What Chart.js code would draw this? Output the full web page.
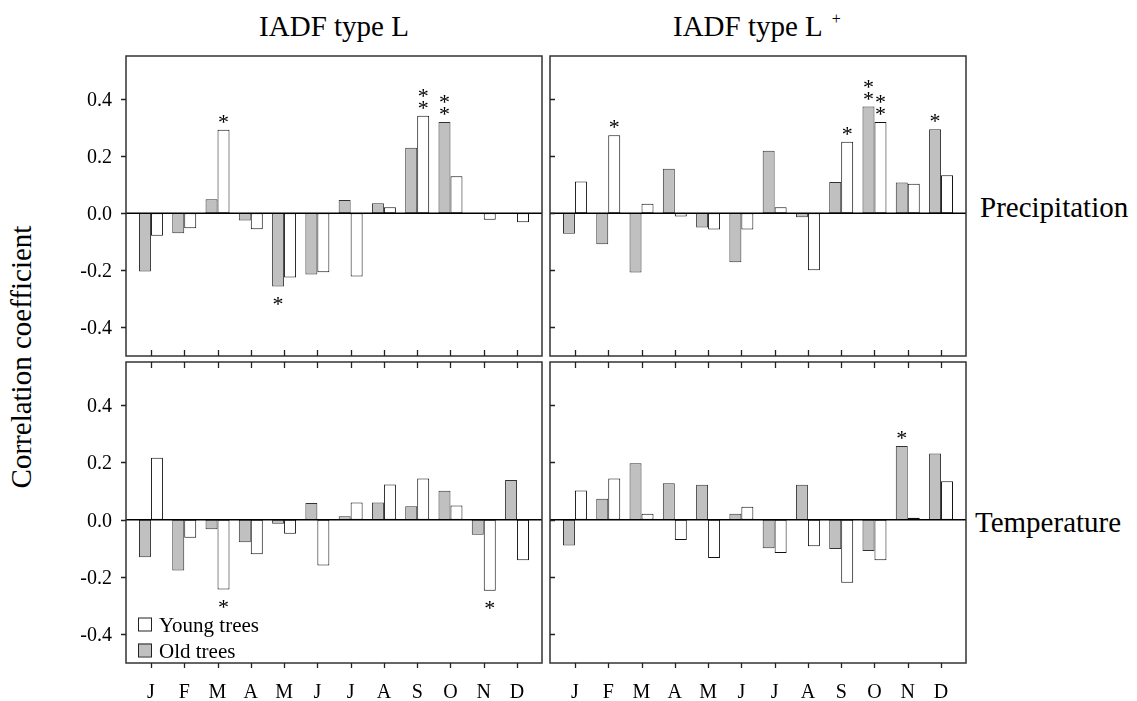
<!DOCTYPE html>
<html>
<head>
<meta charset="utf-8">
<script src="https://cdn.jsdelivr.net/npm/chart.js@4"></script>
<style>
  html, body { margin: 0; padding: 0; background: #fff; overflow: hidden; }
  body { width: 1137px; height: 701px; position: relative; font-family: "Liberation Serif", serif; color: #000; }
  canvas { position: absolute; }
  .txt { position: absolute; white-space: nowrap; font-size: 29px; line-height: 29px; }
  .sup { font-size: 16px; position: relative; top: -12px; margin-left: 9px; }
  .lbl { position: absolute; white-space: nowrap; z-index: 2; }
</style>
</head>
<body>
<div class="txt" style="left:334px; top:12px; transform:translateX(-50%);">IADF type L</div>
<div class="txt" style="left:673px; top:12px;">IADF type L<span class="sup">+</span></div>
<div class="txt" style="left:980px; top:193px;">Precipitation</div>
<div class="txt" style="left:975px; top:508px;">Temperature</div>
<div class="txt" style="left:21px; top:357px; transform:translate(-50%,-50%) rotate(-90deg);">Correlation coefficient</div>

<canvas id="precipL"></canvas>
<canvas id="precipLP"></canvas>
<canvas id="tempL"></canvas>
<canvas id="tempLP"></canvas>

<script>
const months = ["J", "F", "M", "A", "M", "J", "J", "A", "S", "O", "N", "D"];
const yTickValues = [-0.4, -0.2, 0.0, 0.2, 0.4];

// precipitation, IADF type L
const precipLOld = [-0.204, -0.070, 0.049, -0.026, -0.257, -0.215, 0.046, 0.035, 0.229, 0.319, -0.002, -0.002];
const precipLYoung = [-0.079, -0.053, 0.292, -0.056, -0.225, -0.207, -0.222, 0.021, 0.341, 0.129, -0.023, -0.032];
// precipitation, IADF type L+
const precipLPOld = [-0.072, -0.109, -0.208, 0.155, -0.050, -0.172, 0.218, -0.014, 0.109, 0.373, 0.107, 0.294];
const precipLPYoung = [0.111, 0.273, 0.033, -0.012, -0.057, -0.057, 0.021, -0.200, 0.250, 0.319, 0.103, 0.133];
// temperature, IADF type L
const tempLOld = [-0.131, -0.177, -0.033, -0.079, -0.014, 0.058, 0.012, 0.060, 0.047, 0.101, -0.053, 0.138];
const tempLYoung = [0.216, -0.063, -0.244, -0.121, -0.049, -0.160, 0.060, 0.123, 0.144, 0.049, -0.248, -0.142];
// temperature, IADF type L+
const tempLPOld = [-0.090, 0.073, 0.197, 0.127, 0.122, 0.021, -0.100, 0.122, -0.102, -0.109, 0.257, 0.231];
const tempLPYoung = [0.102, 0.144, 0.021, -0.071, -0.134, 0.045, -0.116, -0.093, -0.220, -0.142, 0.007, 0.134];

// number of asterisks above/below each bar
const sigPrecipLOld = [0, 0, 0, 0, 1, 0, 0, 0, 0, 2, 0, 0];
const sigPrecipLYoung = [0, 0, 1, 0, 0, 0, 0, 0, 2, 0, 0, 0];
const sigPrecipLPOld = [0, 0, 0, 0, 0, 0, 0, 0, 0, 2, 0, 1];
const sigPrecipLPYoung = [0, 1, 0, 0, 0, 0, 0, 0, 1, 2, 0, 0];
const sigTempLOld = [0, 0, 0, 0, 0, 0, 0, 0, 0, 0, 0, 0];
const sigTempLYoung = [0, 0, 1, 0, 0, 0, 0, 0, 0, 0, 1, 0];
const sigTempLPOld = [0, 0, 0, 0, 0, 0, 0, 0, 0, 0, 1, 0];
const sigTempLPYoung = [0, 0, 0, 0, 0, 0, 0, 0, 0, 0, 0, 0];

const oldFill = "#c0c0c0";
const padT = 40, padR = 6, yW = 100, xH = 45;

function panelPlugin(cfg) {
    return {
        id: "panel",
        afterDatasetsDraw(chart) {
            const { ctx, chartArea: a, scales: { x, y } } = chart;
            ctx.save();

            // zero line
            const y0 = y.getPixelForValue(0);
            ctx.strokeStyle = "#000";
            ctx.lineWidth = 1.5;
            ctx.beginPath();
            ctx.moveTo(a.left, y0);
            ctx.lineTo(a.right, y0);
            ctx.stroke();

            // frame
            ctx.strokeStyle = "#333";
            ctx.lineWidth = 1.5;
            ctx.strokeRect(a.left, a.top, a.right - a.left, a.bottom - a.top);

            // tick marks
            ctx.lineWidth = 1.3;
            ctx.strokeStyle = "#222";
            ctx.beginPath();
            yTickValues.forEach((v) => {
                const py = Math.round(y.getPixelForValue(v)) + 0.5;
                ctx.moveTo(a.left, py);
                ctx.lineTo(a.left + (cfg.yOut ? -5 : 5), py);
            });
            months.forEach((m, i) => {
                const px = Math.round(x.getPixelForValue(i)) + 0.5;
                if (cfg.bottomRow) {
                    ctx.moveTo(px, a.top);
                    ctx.lineTo(px, a.top + 6);
                    ctx.moveTo(px, a.bottom);
                    ctx.lineTo(px, a.bottom + 5);
                } else {
                    ctx.moveTo(px, a.bottom);
                    ctx.lineTo(px, a.bottom - 6);
                }
            });
            ctx.stroke();

            // legend swatches (labels are html, see addOverlay)
            if (cfg.legend) {
                [chart.data.datasets[1], chart.data.datasets[0]].forEach((ds, k) => {
                    const cy = a.bottom - 39 + 26 * k;
                    ctx.fillStyle = ds.backgroundColor;
                    ctx.fillRect(a.left + 12, cy - 6.5, 13, 13);
                    ctx.strokeStyle = "#222";
                    ctx.lineWidth = 1;
                    ctx.strokeRect(a.left + 12.5, cy - 6, 13, 13);
                });
            }
            ctx.restore();
        }
    };
}

function addText(text, left, top, size, transform) {
    const d = document.createElement("div");
    d.className = "lbl";
    d.textContent = text;
    d.style.left = left + "px";
    d.style.top = top + "px";
    d.style.fontSize = size + "px";
    d.style.lineHeight = size + "px";
    d.style.transform = transform;
    document.body.appendChild(d);
}

// canvas text falls back to a sans face here, so labels go on top as html,
// placed from the chart's own scales and bar elements
function addOverlay(chart, ox, oy, cfg) {
    const a = chart.chartArea;
    const xs = chart.scales.x;
    const ys = chart.scales.y;

    if (cfg.yOut) {
        yTickValues.forEach((v) => {
            addText(v.toFixed(1), ox + a.left - 14, oy + ys.getPixelForValue(v), 20, "translate(-100%, -50%)");
        });
    }
    if (cfg.bottomRow) {
        months.forEach((m, i) => {
            addText(m, ox + xs.getPixelForValue(i), oy + a.bottom + 18, 20, "translateX(-50%)");
        });
    }

    [cfg.sigOld, cfg.sigYoung].forEach((sig, di) => {
        const meta = chart.getDatasetMeta(di);
        sig.forEach((n, i) => {
            const el = meta.data[i];
            for (let k = 0; k < n; k++) {
                const cy = el.y < el.base ? el.y - 11 - 12 * k : el.y + 14 + 12 * k;
                addText("*", ox + el.x, oy + cy - 8, 22, "translateX(-50%)");
            }
        });
    });

    if (cfg.legend) {
        [chart.data.datasets[1], chart.data.datasets[0]].forEach((ds, k) => {
            const cy = a.bottom - 39 + 26 * k;
            addText(ds.label, ox + a.left + 33, oy + cy + 1, 21, "translateY(-50%)");
        });
    }
}

function makePanel(id, plotLeft, plotTop, plotH, oldVals, youngVals, cfg) {
    const canvas = document.getElementById(id);
    const plotW = 416;
    const ox = plotLeft - yW;
    const oy = plotTop - padT;
    canvas.width = yW + plotW + padR;
    canvas.height = padT + plotH + xH;
    canvas.style.left = ox + "px";
    canvas.style.top = oy + "px";

    const barStyle = { borderWidth: 1, borderSkipped: false, categoryPercentage: 0.72, barPercentage: 1.0 };

    const chart = new Chart(canvas, {
        type: "bar",
        data: {
            datasets: [
                Object.assign({ label: "Old trees", data: oldVals.map((v, i) => ({ x: i, y: v })), backgroundColor: oldFill, borderColor: "#333" }, barStyle),
                Object.assign({ label: "Young trees", data: youngVals.map((v, i) => ({ x: i, y: v })), backgroundColor: "#ffffff", borderColor: "#111" }, barStyle)
            ]
        },
        options: {
            responsive: false,
            animation: false,
            events: [],
            layout: { padding: { top: padT, right: padR, left: 0, bottom: 0 } },
            plugins: { legend: { display: false }, tooltip: { enabled: false } },
            scales: {
                x: {
                    type: "linear",
                    offset: false,
                    min: -0.75,
                    max: 11.75,
                    afterBuildTicks: (s) => { s.ticks = months.map((m, i) => ({ value: i })); },
                    afterFit: (s) => { s.height = xH; },
                    grid: { display: false, drawTicks: false },
                    border: { display: false },
                    ticks: { display: false }
                },
                y: {
                    min: -0.5,
                    max: 0.55,
                    afterBuildTicks: (s) => { s.ticks = yTickValues.map((v) => ({ value: v })); },
                    afterFit: (s) => { s.width = yW; },
                    grid: { display: false, drawTicks: false },
                    border: { display: false },
                    ticks: { display: false }
                }
            }
        },
        plugins: [panelPlugin(cfg)]
    });

    addOverlay(chart, ox, oy, cfg);
}

makePanel("precipL", 126, 56, 300, precipLOld, precipLYoung,
    { yOut: true, bottomRow: false, legend: false, sigOld: sigPrecipLOld, sigYoung: sigPrecipLYoung });
makePanel("precipLP", 550, 56, 300, precipLPOld, precipLPYoung,
    { yOut: false, bottomRow: false, legend: false, sigOld: sigPrecipLPOld, sigYoung: sigPrecipLPYoung });
makePanel("tempL", 126, 362, 301, tempLOld, tempLYoung,
    { yOut: true, bottomRow: true, legend: true, sigOld: sigTempLOld, sigYoung: sigTempLYoung });
makePanel("tempLP", 550, 362, 301, tempLPOld, tempLPYoung,
    { yOut: false, bottomRow: true, legend: false, sigOld: sigTempLPOld, sigYoung: sigTempLPYoung });
</script>
</body>
</html>
